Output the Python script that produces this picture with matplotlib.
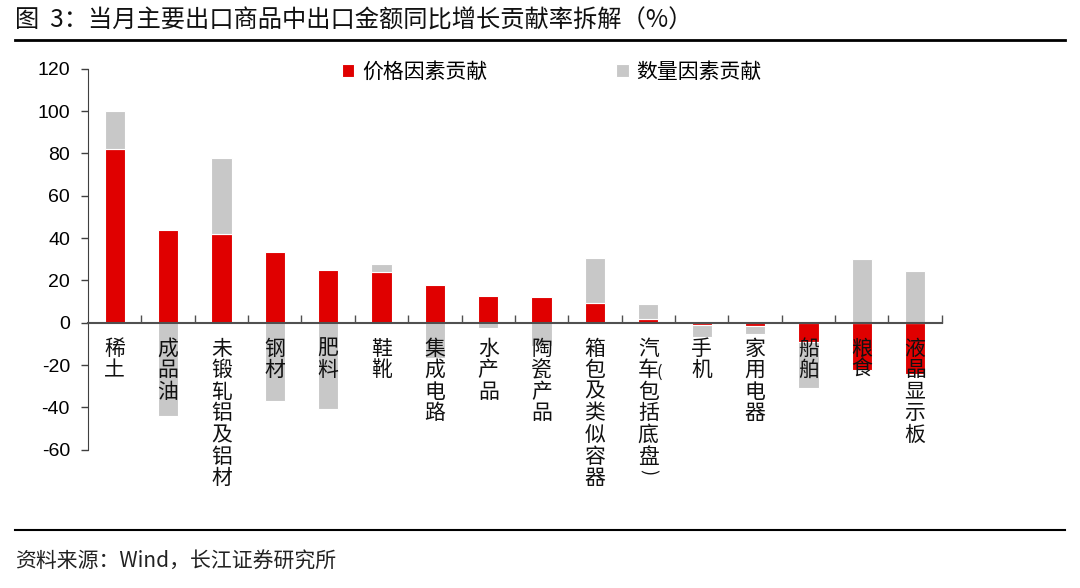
import matplotlib
matplotlib.use('Agg')
import matplotlib.pyplot as plt
import numpy as np
from matplotlib.lines import Line2D

plt.rcParams['font.family'] = ['Noto Sans CJK SC', 'DejaVu Sans']
plt.rcParams['axes.unicode_minus'] = False

# 数据
categories = ['稀土', '成品油', '未锻轧铝及铝材', '钢材', '肥料', '鞋靴', '集成电路', '水产品',
              '陶瓷产品', '箱包及类似容器', '汽车（包括底盘）', '手机', '家用电器', '船舶', '粮食', '液晶显示板']
price = [82, 44, 42, 33.5, 24.7, 24, 18, 12.8, 12.3, 9.2, 1.6, -1, -1.4, -9, -22.3, -24.2]
volume = [18, -44, 36, -37, -40.6, 3.7, -16.8, -2.7, -10.9, 21.5, 7.1, -5.9, -3.8, -21.7, 30, 24.3]

red = '#E00000'
gray = '#C8C8C8'

fig = plt.figure(figsize=(10.8, 5.88), dpi=100)
ax = fig.add_axes([0.0815, 0.2352, 0.7905, 0.648])

x = np.arange(len(categories))
price = np.array(price)
volume = np.array(volume)
# 同号则叠在价格因素之上，异号从0开始
bottom = np.where(np.sign(price) == np.sign(volume), price, 0)

w = 0.38
ax.bar(x, price, width=w, color=red, edgecolor='white', linewidth=0.8, label='价格因素贡献', zorder=2)
ax.bar(x, volume, width=w, bottom=bottom, color=gray, edgecolor='white', linewidth=0.8,
       label='数量因素贡献', zorder=2)

ax.set_xlim(-0.5, len(categories) - 0.5)
ax.set_ylim(-60, 120)
ax.set_yticks(range(-60, 121, 20))
ax.tick_params(axis='y', direction='out', length=5, width=1, color='#404040', pad=8,
               labelsize=14)
for t in ax.get_yticklabels():
    t.set_family(['Liberation Sans', 'DejaVu Sans'])

ax.spines['top'].set_visible(False)
ax.spines['right'].set_visible(False)
ax.spines['left'].set_color('#404040')
ax.spines['bottom'].set_position(('data', 0))
ax.spines['bottom'].set_color('#505050')
ax.spines['bottom'].set_linewidth(1.5)
ax.spines['bottom'].set_zorder(3)
ax.set_xticks(np.arange(0.5, len(categories), 1.0))
ax.set_xticklabels([])
ax.tick_params(axis='x', direction='in', length=6, width=1, color='#505050')

# 竖排类别标签
for i, c in enumerate(categories):
    if c == '汽车（包括底盘）':
        # 竖排：左括号不旋转，右括号旋转90度
        ax.text(i, -7, '\n'.join('汽车包括底盘'), ha='center', va='top', fontsize=15,
                linespacing=0.98, color='#111111', zorder=4)
        ax.annotate('(', xy=(i, -7), xytext=(6, -19), textcoords='offset points',
                    ha='left', va='top', fontsize=12, color='#111111', zorder=4)
        ax.annotate(')', xy=(i, -7), xytext=(0, -95), textcoords='offset points',
                    ha='center', va='top', fontsize=13, rotation=-90, color='#111111', zorder=4)
        continue
    ax.text(i, -7, '\n'.join(c), ha='center', va='top', fontsize=15, linespacing=0.98,
            color='#111111', zorder=4)

ax.legend(loc='upper center', bbox_to_anchor=(0.543, 1.07), ncol=2, frameon=False,
          fontsize=15, handlelength=0.6, handleheight=0.6, handletextpad=0.35,
          columnspacing=6.2)

# 标题、分隔线与来源
fig.text(0.014, 0.965, '图  3：当月主要出口商品中出口金额同比增长贡献率拆解（%）', fontsize=17.5,
         va='center', ha='left', color='#111111')
fig.add_artist(Line2D([0.014, 0.986], [0.932, 0.932], color='black', linewidth=2))
fig.add_artist(Line2D([0.014, 0.986], [0.099, 0.099], color='black', linewidth=1.5))
fig.text(0.014, 0.044, '资料来源：Wind，长江证券研究所', fontsize=15, va='center', ha='left',
         color='#222222')

fig.savefig('out.png', dpi=100)
